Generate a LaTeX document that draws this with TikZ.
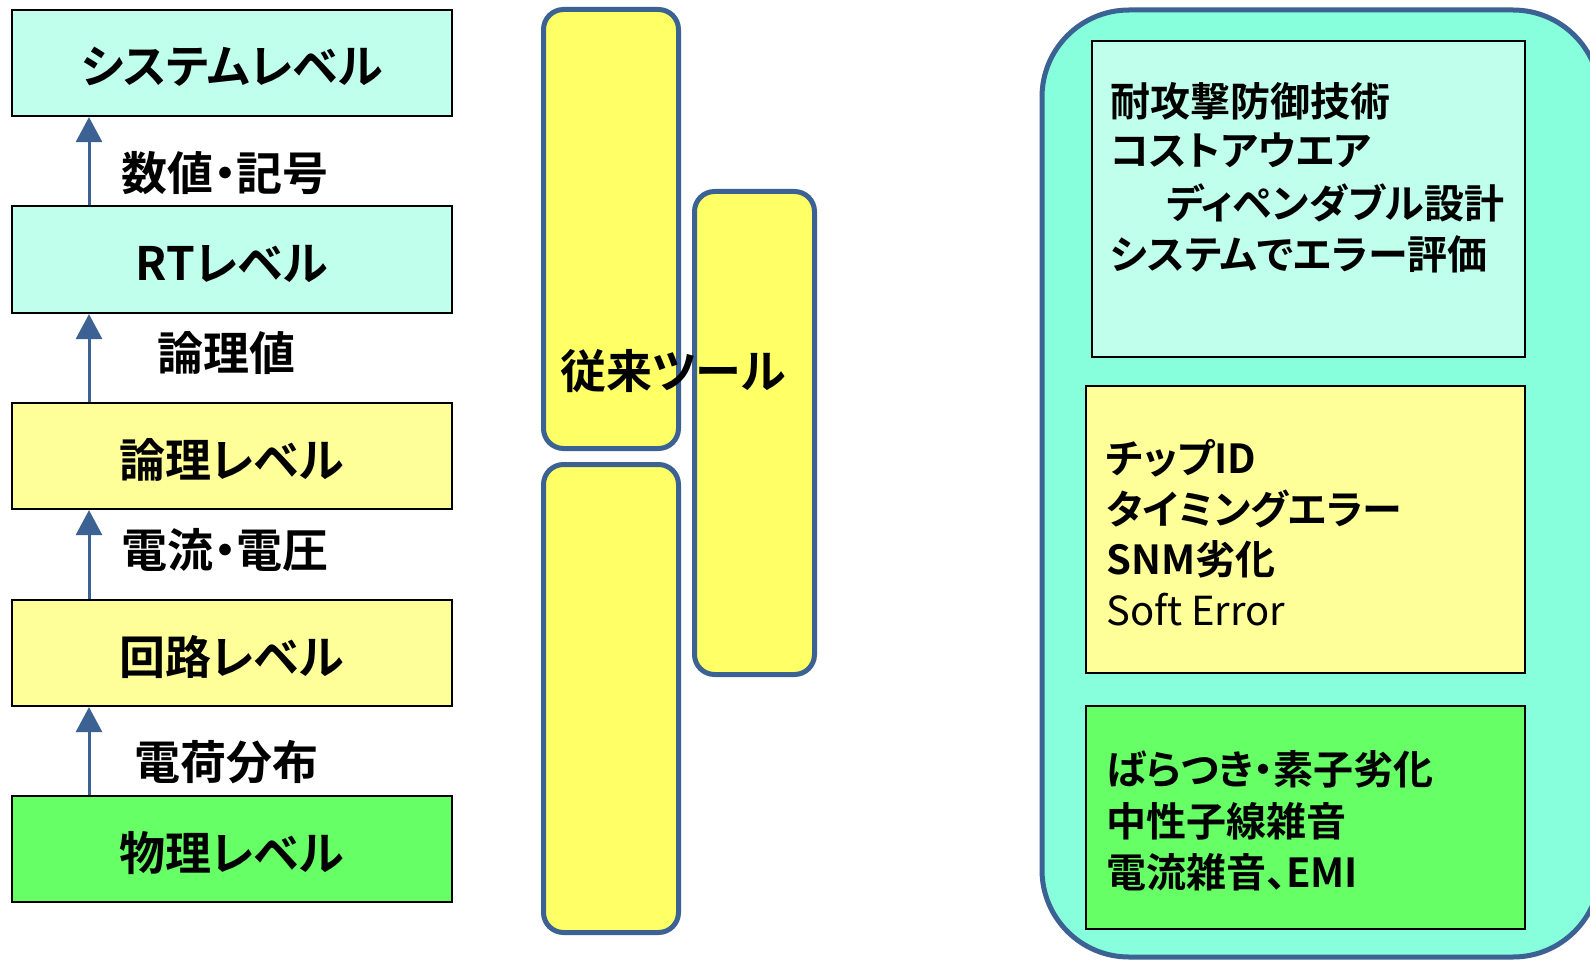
\documentclass[tikz,border=0pt]{standalone}
\usepackage{fontspec}
\setmainfont{Noto Sans CJK JP}[RawFeature=+palt,BoldFont={Noto Sans CJK JP Bold}]
\usetikzlibrary{arrows.meta}
\definecolor{cyanl}{HTML}{C0FFEB}
\definecolor{yell}{HTML}{FFFF99}
\definecolor{grn}{HTML}{66FF66}
\definecolor{yelm}{HTML}{FFFF66}
\definecolor{aqua}{HTML}{87FFDD}
\definecolor{blu}{HTML}{3C6193}
\newcommand\lowertxt[1]{\raisebox{-4pt}[\height][\depth]{#1}}
\begin{document}
\begin{tikzpicture}[x=1pt,y=-1pt,
  lvl/.style={draw=black,line width=2.2pt,minimum width=440pt,minimum height=106pt,inner sep=0pt,font=\fontsize{46}{50}\selectfont\bfseries},
  lbl/.style={inner sep=0pt,font=\fontsize{46}{50}\selectfont\bfseries},
  arr/.style={draw=blu,line width=3pt,-{Triangle[width=26pt,length=25pt]}},
  tool/.style={draw=blu,line width=5pt,fill=yelm,rounded corners=20pt,inner sep=0pt},
  inbox/.style={draw=black,line width=2pt},
  rt/.style={anchor=west,inner sep=0pt,font=\fontsize{40}{44}\selectfont\bfseries},
  rtn/.style={anchor=west,inner sep=0pt,font=\fontsize{40}{44}\selectfont}]
\useasboundingbox (0,0) rectangle (1590,960);
\fill[white] (0,0) rectangle (1590,960);
% left hierarchy
\node[lvl,fill=cyanl] (sys) at (232,63) {\lowertxt{システムレベル}};
\node[lvl,fill=cyanl,minimum height=107pt] (rtl) at (232,259.5) {\lowertxt{RTレベル}};
\node[lvl,fill=yell] (logic) at (232,456) {\lowertxt{論理レベル}};
\node[lvl,fill=yell] (circ) at (232,653) {\lowertxt{回路レベル}};
\node[lvl,fill=grn] (phys) at (232,849) {\lowertxt{物理レベル}};
\draw[arr] ([xshift=-143pt]rtl.north) -- ([xshift=-143pt]sys.south);
\draw[arr] ([xshift=-143pt]logic.north) -- ([xshift=-143pt]rtl.south);
\draw[arr] ([xshift=-143pt]circ.north) -- ([xshift=-143pt]logic.south);
\draw[arr] ([xshift=-143pt]phys.north) -- ([xshift=-143pt]circ.south);
\node[lbl] (l1) at (225,173) {数値・記号};
\node[lbl] (l2) at (226,353) {論理値};
\node[lbl] (l3) at (225,550) {電流・電圧};
\node[lbl] (l4) at (226,762) {電荷分布};
% conventional tools
\node[tool,minimum width=135pt,minimum height=439pt] (t1) at (611,229) {};
\node[tool,minimum width=135pt,minimum height=468pt] (t2) at (611,698.5) {};
\node[tool,minimum width=120pt,minimum height=483pt] (t3) at (754.5,433) {};
\node[lbl] (tl) at (673,371) {従来ツール};
% right panel
\begin{scope}
\clip (0,0) rectangle (1590,960);
\draw[draw=blu,line width=5pt,fill=aqua,rounded corners=87pt] (1042,10) rectangle (1600,957);
\end{scope}
\draw[inbox,fill=cyanl] (1092,41) rectangle (1525,357);
\draw[inbox,fill=yell] (1086,386) rectangle (1525,673);
\draw[inbox,fill=grn] (1086,706) rectangle (1525,929);
\node[rt] (a1) at (1110,101) {耐攻撃防御技術};
\node[rt] (a2) at (1110,150) {コストアウエア};
\node[rt] (a3) at (1166,203) {ディペンダブル設計};
\node[rt] (a4) at (1110,254) {システムでエラー評価};
\node[rt] (b1) at (1106,458) {チップID};
\node[rt] (b2) at (1106,509) {タイミングエラー};
\node[rt] (b3) at (1106,559) {SNM劣化};
\node[rtn] (b4) at (1106,610) {Soft Error};
\node[rt] (c1) at (1106,769) {ばらつき・素子劣化};
\node[rt] (c2) at (1106,821) {中性子線雑音};
\node[rt] (c3) at (1106,872) {電流雑音、EMI};
\end{tikzpicture}
\end{document}
